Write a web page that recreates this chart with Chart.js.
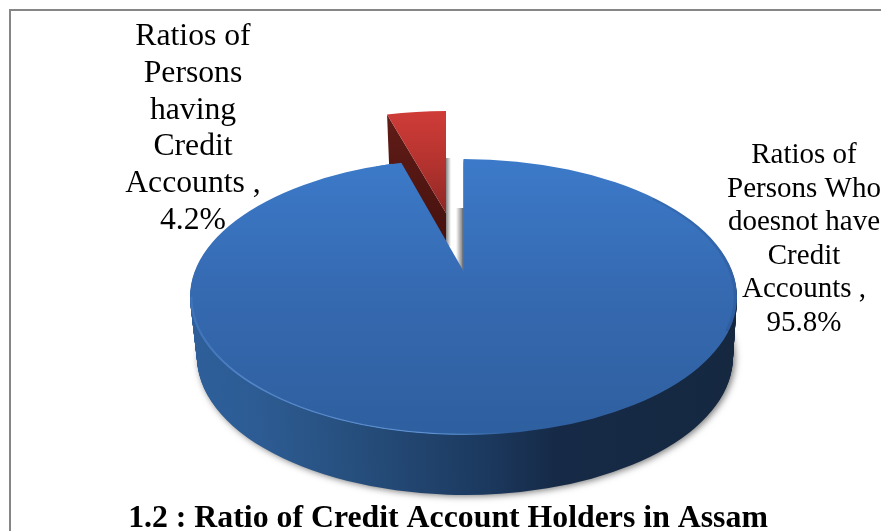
<!DOCTYPE html>
<html>
<head>
<meta charset="utf-8">
<title>Credit Account Holders</title>
<script src="https://cdn.jsdelivr.net/npm/chart.js@4"></script>
<style>
  html, body { margin: 0; padding: 0; background: #fff; overflow: hidden; }
  #wrap { position: relative; width: 881px; height: 531px; }
</style>
</head>
<body>
<div id="wrap"><canvas id="pieChart" width="881" height="531"></canvas></div>
<script>
// chart data
const categories = ['Ratios of Persons Who doesnot have Credit Accounts', 'Ratios of Persons having Credit Accounts'];
const shares = [95.8, 4.2];
const holderLabelLines = ['Ratios of', 'Persons', 'having', 'Credit', 'Accounts ,', '4.2%'];
const otherLabelLines = ['Ratios of', 'Persons Who', 'doesnot have', 'Credit', 'Accounts ,', '95.8%'];
const chartTitle = '1.2 : Ratio of Credit Account Holders in Assam';

// where the tilted disc sits on the canvas
const disc = { x: 463.5, y: 297, rx: 273.5, ry: 138 };
const base = { x: 465, y: 357, rx: 268, ry: 138 };
const slice = { x: 446, y: 213, rx: 226, ry: 102 };
const sliceDepthRim = 49;
const sliceDepthTip = 32;
const tipLift = 25;      // perspective moves the apex of the big slice up
const edgeNarrow = 0.88; // and narrows the gap at the rim

function placeArc(ctx, arc, box) {
    ctx.translate(box.x, box.y);
    ctx.scale(box.rx / arc.outerRadius, box.ry / arc.outerRadius);
    ctx.translate(-arc.x, -arc.y);
}

function paintArc(ctx, arc, box, fill) {
    const saved = arc.options;
    arc.options = Object.assign({}, saved, { backgroundColor: fill });
    ctx.save();
    placeArc(ctx, arc, box);
    arc.draw(ctx);
    ctx.restore();
    arc.options = saved;
}

function stops(gradient, list) {
    list.forEach(s => gradient.addColorStop(s[0], s[1]));
    return gradient;
}

function rimPoint(arc, angle, k) {
    return [arc.x + Math.cos(angle) * arc.outerRadius * k, arc.y + Math.sin(angle) * arc.outerRadius * k];
}

const pie3d = {
    id: 'pie3d',
    beforeDraw(chart) {
        // frame runs off the right and bottom of the page
        const ctx = chart.ctx;
        ctx.save();
        ctx.fillStyle = '#fff';
        ctx.fillRect(0, 0, chart.width, chart.height);
        ctx.strokeStyle = '#868686';
        ctx.lineWidth = 2;
        ctx.strokeRect(10, 10, chart.width + 20, chart.height + 20);
        ctx.restore();
    },
    beforeDatasetDraw(chart) {
        const ctx = chart.ctx;
        const [big, small] = chart.getDatasetMeta(0).data;
        const R = big.outerRadius;

        const wallFill = stops(ctx.createLinearGradient(big.x - R, 0, big.x + R, 0), [
            [0, '#2e5f9a'], [0.11, '#2d5c94'], [0.28, '#27507f'],
            [0.53, '#1c3a60'], [0.67, '#162a47'], [1, '#152840']
        ]);
        const topFill = stops(ctx.createLinearGradient(0, big.y - R, 0, big.y + R), [
            [0, '#3c7ac9'], [0.5, '#3569b0'], [1, '#2e5f9f']
        ]);
        const redFill = stops(ctx.createLinearGradient(0, small.y - small.outerRadius, 0, small.y), [
            [0, '#cf3c38'], [0.5, '#b5332f'], [1, '#8e2825']
        ]);

        // side wall: the big slice stacked from the base up to the disc
        const steps = 60;
        for (let i = steps; i >= 1; i--) {
            const t = i / steps;
            const box = {
                x: disc.x + (base.x - disc.x) * t,
                y: disc.y + (base.y - disc.y) * t,
                rx: disc.rx + (base.rx - disc.rx) * t,
                ry: disc.ry
            };
            if (i === steps) {
                ctx.save();
                ctx.shadowColor = 'rgba(0,0,0,0.55)';
                ctx.shadowBlur = 7;
                ctx.shadowOffsetX = 2;
                ctx.shadowOffsetY = 1;
                paintArc(ctx, big, box, wallFill);
                ctx.restore();
            } else {
                paintArc(ctx, big, box, wallFill);
            }
        }

        // cover the wall inside the gap, then shade its two inner edges
        ctx.fillStyle = '#fff';
        ctx.fillRect(446, 150, 17.5, 130);
        const strip1 = ctx.createLinearGradient(446, 0, 451, 0);
        stops(strip1, [[0, 'rgba(120,120,120,0.9)'], [1, 'rgba(120,120,120,0)']]);
        ctx.fillStyle = strip1;
        ctx.fillRect(446, 158, 5, 88);
        const strip2 = ctx.createLinearGradient(456, 0, 463.5, 0);
        stops(strip2, [[0, 'rgba(110,110,110,0)'], [0.8, 'rgba(110,110,110,0.8)'], [1, '#2b4a70']]);
        ctx.fillStyle = strip2;
        ctx.fillRect(456, 208, 7.5, 66);

        // cut face of the pulled-out slice
        const rimEdge = rimPoint(small, small.startAngle, 1);
        const rimX = slice.x + (rimEdge[0] - small.x) * slice.rx / small.outerRadius;
        const rimY = slice.y + (rimEdge[1] - small.y) * slice.ry / small.outerRadius;
        const cutFill = stops(ctx.createLinearGradient(0, rimY, 0, slice.y + sliceDepthTip), [
            [0, '#611c17'], [1, '#45110e']
        ]);
        ctx.fillStyle = cutFill;
        ctx.beginPath();
        ctx.moveTo(slice.x, slice.y);
        ctx.lineTo(rimX, rimY);
        ctx.lineTo(rimX + 2, rimY + sliceDepthRim);
        ctx.lineTo(slice.x, slice.y + sliceDepthTip);
        ctx.closePath();
        ctx.fill();
        paintArc(ctx, small, slice, redFill);

        // top of the disc; the apex of the gap sits above its centre,
        // so the piece under the apex overlaps into the slice to hide the join
        paintArc(ctx, big, disc, topFill);
        ctx.save();
        placeArc(ctx, big, disc);
        ctx.beginPath();
        ctx.arc(big.x, big.y, R, 0, Math.PI * 2);
        ctx.clip();
        const gapAngle = big.endAngle - (-Math.PI / 2 + Math.PI * 2);
        const overlap = rimPoint(big, big.endAngle - 0.06, 1.05);
        const narrowed = rimPoint(big, -Math.PI / 2 + gapAngle * edgeNarrow, 1.05);
        ctx.fillStyle = topFill;
        ctx.beginPath();
        ctx.moveTo(big.x + 10, big.y + 12);
        ctx.lineTo(big.x + 0.5, big.y - tipLift * R / disc.ry);
        ctx.lineTo(narrowed[0], narrowed[1]);
        ctx.lineTo(overlap[0], overlap[1]);
        ctx.lineTo(big.x - 10, big.y + 12);
        ctx.closePath();
        ctx.fill();

        // pale bevel along the near rim, darker on the far right
        const bevel = stops(ctx.createLinearGradient(big.x - R, 0, big.x + R, 0), [
            [0, 'rgba(120,170,235,0.15)'], [0.1, 'rgba(120,170,235,0.45)'], [0.45, 'rgba(120,170,235,0.7)'],
            [0.58, 'rgba(120,170,235,0)'], [1, 'rgba(120,170,235,0)']
        ]);
        ctx.strokeStyle = bevel;
        ctx.lineWidth = 2.5;
        ctx.beginPath();
        ctx.arc(big.x, big.y, R - 1, 0, Math.PI);
        ctx.stroke();
        ctx.strokeStyle = 'rgba(25,50,85,0.15)';
        ctx.lineWidth = 4;
        ctx.beginPath();
        ctx.arc(big.x, big.y, R - 1, -0.8, 0.25);
        ctx.stroke();
        ctx.restore();

        return false; // all slices are drawn above
    },
    afterDraw(chart) {
        const ctx = chart.ctx;
        ctx.save();
        ctx.fillStyle = '#000';
        ctx.textAlign = 'center';
        ctx.textBaseline = 'alphabetic';
        ctx.font = '31.7px "Liberation Serif"';
        holderLabelLines.forEach((line, i) => ctx.fillText(line, 193, 45 + i * 36.8));
        ctx.font = '29px "Liberation Serif"';
        otherLabelLines.forEach((line, i) => ctx.fillText(line, 804, 163 + i * 33.6));
        ctx.restore();
    }
};

const chart = new Chart(document.getElementById('pieChart'), {
    type: 'pie',
    data: {
        labels: categories,
        datasets: [{
            data: shares,
            backgroundColor: ['#3c7ac9', '#cf3c38'],
            borderWidth: 0
        }]
    },
    options: {
        responsive: false,
        animation: false,
        layout: { padding: { left: 15 } },
        plugins: {
            legend: { display: false },
            tooltip: { enabled: false },
            title: {
                display: true,
                text: chartTitle,
                position: 'bottom',
                color: '#000',
                font: { family: '"Liberation Serif"', size: 31.8, weight: 'bold' },
                padding: { top: 0, bottom: -7 }
            }
        }
    },
    plugins: [pie3d]
});
</script>
</body>
</html>
